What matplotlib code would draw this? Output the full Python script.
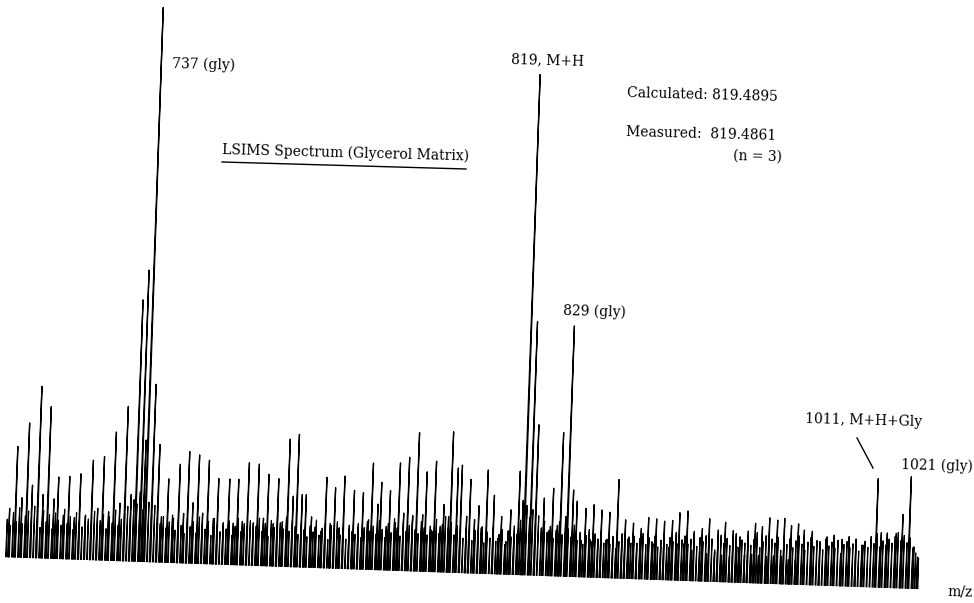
"""
plot.py - LSIMS spectrum (glycerol matrix), redrawn from a scanned chart trace.
"""
import matplotlib
matplotlib.use('Agg')  # Non-interactive backend
import matplotlib.pyplot as plt
from matplotlib.collections import LineCollection
from matplotlib.lines import Line2D
from matplotlib.transforms import Affine2D
import numpy as np

# Resolved peaks: position along the scan (chart channel) and height (chart units)
peak_pos = [
    8, 14, 20, 25, 30, 36, 41, 46, 52, 56, 62, 67, 73, 78, 84, 90, 96, 101, 107, 112,
    118, 123, 129, 134, 139, 142, 144, 150, 156, 160, 166, 172, 177, 182, 186, 191, 196, 201, 206, 212,
    216, 222, 227, 232, 236, 241, 246, 252, 256, 262, 266, 272, 276, 281, 286, 291, 295, 300, 304, 310,
    314, 320, 324, 329, 333, 338, 342, 348, 352, 357, 361, 367, 370, 376, 379, 385, 388, 394, 397, 402,
    406, 411, 415, 421, 424, 430, 433, 439, 442, 447, 449, 455, 459, 465, 468, 473, 477, 481, 485, 492,
    497, 500, 505, 509, 513, 517, 521, 523, 529, 534, 542, 548, 551, 556, 559, 565, 566, 571, 575, 580,
    584, 589, 592, 597, 600, 605, 608, 612, 616, 621, 624, 628, 632, 636, 640, 647, 652, 655, 660, 663,
    668, 671, 676, 678, 683, 686, 691, 693, 699, 701, 706, 708, 714, 717, 721, 724, 729, 732, 736, 739,
    744, 747, 751, 754, 758, 761, 766, 768, 773, 776, 781, 783, 788, 790, 795, 797, 803, 811, 819, 826,
    833, 841, 848, 855, 862, 875, 880, 886, 895, 901, 908, 913, 917,
]
peak_height = [
    49, 111, 60, 135, 73, 172, 64, 152, 60, 82, 44, 83, 42, 86, 44, 100, 52, 104, 49, 129,
    58, 155, 67, 262, 292, 122, 555, 178, 118, 46, 84, 45, 99, 50, 112, 61, 109, 51, 104, 46,
    86, 42, 86, 42, 86, 44, 103, 43, 102, 48, 92, 43, 88, 45, 128, 71, 133, 73, 73, 51,
    41, 37, 91, 45, 81, 41, 93, 41, 79, 43, 77, 50, 107, 66, 88, 44, 80, 48, 108, 58,
    114, 56, 139, 57, 100, 42, 111, 46, 68, 56, 141, 105, 108, 57, 94, 54, 68, 47, 104, 79,
    36, 58, 33, 65, 38, 104, 75, 501, 254, 151, 78, 46, 88, 51, 144, 60, 251, 87, 76, 37,
    69, 38, 73, 38, 68, 38, 66, 37, 99, 43, 59, 42, 56, 36, 51, 62, 36, 61, 33, 59,
    33, 60, 37, 68, 37, 70, 31, 48, 30, 53, 28, 63, 30, 52, 27, 60, 26, 52, 36, 46,
    28, 52, 29, 60, 28, 57, 27, 66, 28, 64, 28, 66, 25, 59, 25, 61, 55, 54, 44, 49,
    51, 47, 50, 47, 42, 109, 55, 55, 55, 74, 112, 42, 32,
]

# Unresolved background ("grass") on an even channel grid
grass_start = 6
grass_step = 3
grass_height = [
    38, 32, 45, 36, 50, 34, 42, 47, 35, 52, 40, 31, 48, 37, 44, 30, 46, 39, 34, 50,
    36, 43, 30, 47, 38, 33, 45, 41, 29, 49, 35, 40, 46, 32, 44, 38, 51, 36, 42, 48,
    55, 46, 62, 58, 70, 52, 66, 60, 48, 57, 44, 39, 46, 35, 41, 48, 33, 44, 38, 30,
    45, 37, 42, 31, 47, 40, 35, 43, 29, 46, 38, 33, 41, 36, 44, 30, 39, 47, 34, 42,
    37, 45, 32, 40, 48, 35, 43, 30, 46, 39, 52, 44, 38, 50, 36, 47, 41, 33, 45, 38,
    31, 42, 36, 48, 33, 40, 45, 29, 43, 37, 47, 34, 41, 30, 44, 38, 35, 46, 32, 42,
    48, 39, 44, 36, 50, 41, 33, 47, 38, 52, 43, 35, 49, 40, 46, 55, 42, 38, 50, 44,
    37, 46, 41, 53, 39, 48, 56, 44, 50, 38, 47, 42, 35, 45, 40, 33, 43, 37, 46, 31,
    42, 36, 47, 33, 40, 45, 30, 44, 38, 49, 41, 55, 62, 70, 58, 66, 52, 60, 48, 55,
    44, 50, 38, 46, 55, 42, 60, 48, 40, 52, 37, 45, 33, 42, 48, 36, 44, 39, 47, 35,
    39, 34, 42, 30, 37, 45, 33, 40, 36, 43, 32, 41, 46, 35, 42, 38, 44, 33, 40, 47,
    36, 43, 39, 48, 34, 41, 45, 37, 42, 50, 35, 44, 40, 46, 38, 43, 32, 41, 47, 39,
    44, 37, 42, 49, 35, 43, 40, 46, 38, 44, 51, 36, 42, 48, 39, 45, 41, 47, 34, 43,
    40, 46, 37, 44, 49, 41, 35, 43, 48, 39, 45, 42, 36, 47, 40, 44, 38, 46, 33, 42,
    45, 39, 43, 48, 36, 42, 46, 40, 51, 44, 54, 41, 47, 43, 49, 45, 52, 56, 48, 53,
    46, 51, 41, 36, 31,
]

W, H = 974, 603          # output size in pixels
BASELINE_PX = 46         # baseline height above the bottom edge (left end)
TILT_DEG = -2.0          # the scanned page is slightly rotated


def px(x, y):
    """Pixel position (origin top-left) -> figure fraction."""
    return x / W, 1 - y / H


def spikes(pos, height, half_width):
    """Pen-trace spikes: up one side of each peak and down the other."""
    return [[(p - half_width, 0), (p, h), (p + half_width, 0)] for p, h in zip(pos, height)]


def main() -> None:
    fig = plt.figure(figsize=(W / 100, H / 100), dpi=100)
    ax = fig.add_axes([0, 0, 1, 1])
    ax.set_xlim(0, W)
    ax.set_ylim(-BASELINE_PX, H - BASELINE_PX)
    ax.axis('off')

    pivot = ax.transData.transform((0, 0))
    tilt = ax.transData + Affine2D().rotate_deg_around(pivot[0], pivot[1], TILT_DEG)

    grass_pos = grass_start + grass_step * np.arange(len(grass_height))
    ax.add_collection(LineCollection(spikes(grass_pos, grass_height, 0.4),
                                     colors='black', linewidths=0.85, transform=tilt))
    ax.add_collection(LineCollection(spikes(peak_pos, peak_height, 0.5),
                                     colors='black', linewidths=0.95, transform=tilt))

    txt = dict(family='DejaVu Serif', fontsize=10, color='black',
               rotation=-1.5, rotation_mode='anchor', ha='left', va='center')
    fig.text(*px(172, 64), '737 (gly)', **txt)
    fig.text(*px(511, 59), '819, M+H', **txt)
    fig.text(*px(627, 93), 'Calculated: 819.4895', **txt)
    fig.text(*px(626, 132), 'Measured:  819.4861', **txt)
    fig.text(*px(733, 156), '(n = 3)', **txt)
    fig.text(*px(222, 150), 'LSIMS Spectrum (Glycerol Matrix)', **txt)
    fig.text(*px(563, 311), '829 (gly)', **txt)
    fig.text(*px(805, 419), '1011, M+H+Gly', **txt)
    fig.text(*px(901, 465), '1021 (gly)', **txt)
    fig.text(*px(948, 592), 'm/z', **txt)

    # underline of the title and the pointer to the 1011 peak
    (x0, y0), (x1, y1) = px(222, 162), px(466, 169)
    fig.add_artist(Line2D([x0, x1], [y0, y1], color='black', lw=1.0, transform=fig.transFigure))
    (x0, y0), (x1, y1) = px(857, 438), px(873, 468)
    fig.add_artist(Line2D([x0, x1], [y0, y1], color='black', lw=1.0, transform=fig.transFigure))

    fig.savefig('out.png', dpi=100, facecolor='white')
    plt.close(fig)


if __name__ == "__main__":
    main()
